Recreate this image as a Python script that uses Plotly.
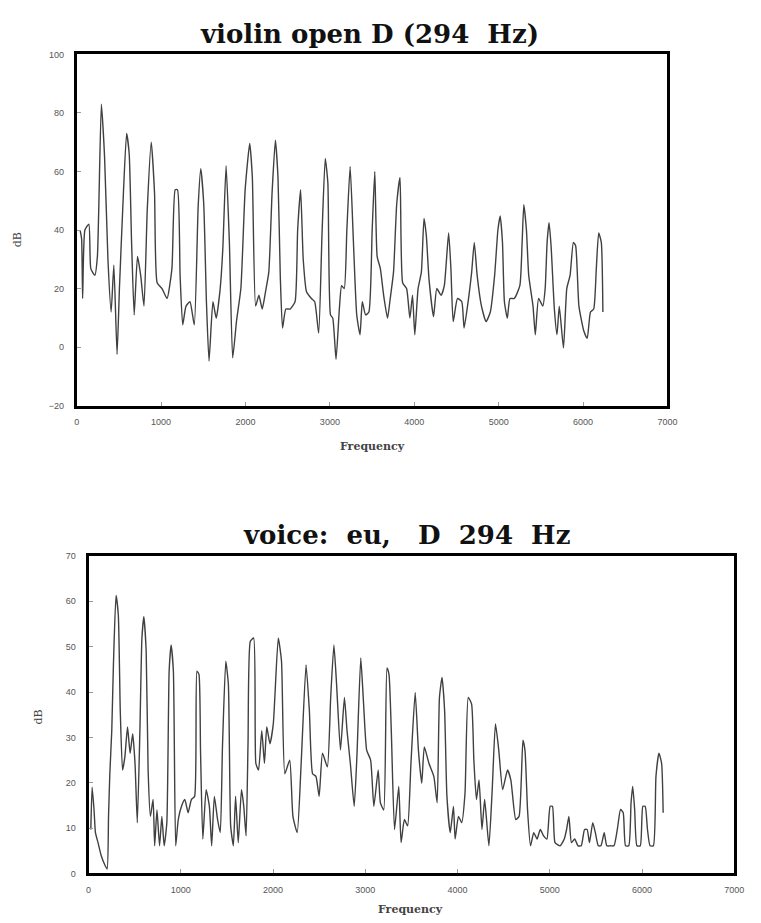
import plotly.graph_objects as go

# ---------------- data ----------------
violin_freq = [40, 58, 70, 97, 144, 167, 214, 245, 292, 330, 370, 408, 440, 478, 506, 545, 591, 622, 650, 681,
               720, 758, 797, 836, 883, 922, 953, 1011, 1070, 1128, 1167, 1194, 1225, 1256, 1295, 1342, 1393, 1439,
               1470, 1505, 1537, 1568, 1614, 1653, 1700, 1731, 1770, 1809, 1848, 1894, 1945, 1996, 2050, 2081, 2120,
               2159, 2198, 2237, 2276, 2315, 2354, 2385, 2412, 2439, 2478, 2529, 2587, 2618, 2653, 2684, 2723, 2781,
               2820, 2867, 2906, 2945, 2976, 3007, 3034, 3073, 3112, 3139, 3170, 3201, 3240, 3279, 3318, 3357, 3384,
               3423, 3462, 3501, 3532, 3560, 3598, 3637, 3683, 3715, 3754, 3792, 3831, 3862, 3909, 3948, 3979, 4006,
               4045, 4084, 4115, 4143, 4174, 4228, 4267, 4318, 4356, 4407, 4434, 4461, 4512, 4563, 4590, 4648, 4680,
               4711, 4745, 4796, 4851, 4901, 4952, 4991, 5018, 5045, 5068, 5103, 5134, 5185, 5251, 5278, 5298, 5329,
               5356, 5407, 5434, 5473, 5523, 5551, 5574, 5597, 5621, 5660, 5691, 5718, 5768, 5807, 5846, 5885, 5912,
               5951, 6010, 6049, 6088, 6126, 6157, 6185, 6216, 6235]
violin_db = [40, 37, 16.6, 40, 42, 26.8, 24.5, 31, 83, 65, 30, 12, 28, -2.5, 20, 47, 73, 66, 36, 11,
             31, 24.5, 14, 47, 70, 52.7, 22, 20, 16.6, 26.8, 53.8, 53.8, 24.5, 7.6, 14, 15.5, 7.6, 48,
             61, 49, 15.5, -4.8, 15.5, 9.9, 20, 33.5, 62, 35.8, -3.7, 9, 20, 53.8, 69.6, 58, 14,
             17.7, 13, 18.9, 25.6, 52.7, 70.7, 58, 24.5, 6.5, 13, 13, 15.5, 40, 53.8, 30, 18.9, 16.6,
             15.5, 4.8, 38, 64.5, 56, 11, 9.9, -4.2, 13, 21, 20, 40, 61.7, 35.8, 11, 4.2, 15.5,
             11, 12, 40, 60, 31, 26.8, 17.7, 9.9, 16.6, 25.6, 49, 58, 22, 20, 9.9, 17.7, 4.2,
             20, 25.6, 44, 38, 23.4, 10.4, 20, 17.7, 21, 39, 26.8, 8.7, 16.6, 15.5, 6.5, 17.7, 25.6,
             35.8, 24.5, 14, 8.7, 12, 24.5, 40, 44.8, 35.8, 15.5, 9.9, 16.6, 16.6, 21, 35.8, 48.7, 40,
             24.5, 14, 4.2, 16.6, 14, 20, 35.8, 42.5, 34.6, 13, 4.2, 14, -0.3, 20, 24.5, 35.8, 34.6,
             14, 5.4, 3, 12, 13, 26.8, 39, 35.8, 12]

voice_freq = [25, 39, 60, 75, 103, 138, 181, 202, 217, 231, 252, 270, 298, 323, 344, 369, 394, 423, 451, 479,
              504, 529, 557, 579, 600, 625, 646, 671, 700, 717, 742, 770, 795, 820, 849, 874, 895, 920, 945, 973,
              1008, 1044, 1080, 1115, 1150, 1175, 1197, 1214, 1239, 1275, 1310, 1335, 1364, 1399, 1428, 1452,
              1488, 1516, 1541, 1570, 1594, 1623, 1658, 1683, 1708, 1729, 1754, 1790, 1814, 1843, 1878, 1907,
              1932, 1967, 2003, 2057, 2092, 2128, 2181, 2216, 2262, 2305, 2358, 2394, 2429, 2465, 2500, 2536,
              2589, 2625, 2660, 2689, 2731, 2774, 2802, 2838, 2880, 2909, 2951, 2980, 3015, 3058, 3093, 3140,
              3164, 3200, 3235, 3257, 3282, 3317, 3363, 3388, 3424, 3459, 3495, 3541, 3576, 3612, 3640, 3690,
              3743, 3779, 3804, 3832, 3860, 3885, 3921, 3956, 3974, 4010, 4045, 4081, 4116, 4152, 4177, 4205,
              4233, 4265, 4294, 4340, 4376, 4411, 4447, 4489, 4542, 4578, 4631, 4667, 4709, 4731, 4759, 4791,
              4826, 4862, 4897, 4933, 4969, 5004, 5029, 5057, 5111, 5157, 5182, 5207, 5235, 5270, 5306, 5341,
              5377, 5405, 5430, 5466, 5494, 5526, 5554, 5590, 5618, 5661, 5696, 5732, 5767, 5796, 5821, 5856,
              5881, 5899, 5920, 5945, 5981, 6009, 6034, 6059, 6087, 6123, 6151, 6183, 6212, 6229]
voice_db = [9.7, 19, 14, 9, 6.8, 3.9, 1.7, 1, 12.6, 22, 31.5, 46, 61.3, 57, 36, 22.8, 25.7, 32.3, 26.5, 30.8,
            24.3, 11.2, 31.5, 51.9, 56.6, 49, 22.8, 12.6, 16.3, 6.1, 14, 6.1, 12.6, 6.1, 11.2, 44.6, 50.4, 44.6, 6.1, 11.9,
            14.8, 16.3, 13.4, 16.3, 17, 44.6, 43.9, 27.2, 7.6, 18.5, 14.8, 6.1, 17, 11.9, 9, 27.9,
            46.8, 41.7, 10.5, 6.1, 17, 6.8, 18.5, 14.8, 8.3, 28.6, 51.2, 51.9, 24.3, 22.8, 31.5, 24.3,
            32.3, 28.6, 33, 51.9, 46.8, 22, 25, 12.6, 9, 24.3, 46, 35.9, 22, 21.4, 17, 26.5,
            23.5, 38.8, 50.4, 41.7, 27.2, 38.8, 31.5, 24.3, 14.8, 25.7, 47.5, 38, 27.2, 25, 14.8, 22.8,
            15.6, 14, 45.3, 43.9, 31.5, 9.7, 19.2, 6.8, 11.9, 10.5, 24.3, 39.9, 27.2, 19.9, 27.9, 24.3,
            21.4, 15.6, 38.8, 43.2, 35.9, 17, 9, 14.8, 7.6, 12.6, 11.2, 17.7, 38.8, 37.4, 25, 16.3,
            20.6, 9.7, 16.3, 6.1, 18.5, 33, 27.2, 18.5, 22.8, 20.6, 11.9, 12.6, 29.4, 27.2, 14, 6.1,
            9, 7.6, 9.7, 8.3, 7.6, 14.8, 14.8, 6.8, 6.1, 7.6, 9.7, 12.6, 6.8, 7.6, 6.1, 6.1,
            9.7, 9.7, 6.8, 11.2, 9, 6.1, 6.1, 9, 6.1, 6.1, 6.1, 9.7, 14.1, 13.4, 6.1, 6.1,
            15.6, 19.2, 14.1, 6.1, 6.1, 14.8, 14.8, 9.7, 6.1, 6.1, 21.4, 26.5, 24.3, 13.4]

violin_title = "violin open D (294  Hz)"
voice_title = "voice:  eu,   D  294  Hz"
x_ticks = [0, 1000, 2000, 3000, 4000, 5000, 6000, 7000]
violin_y_ticks = [-20, 0, 20, 40, 60, 80, 100]
voice_y_ticks = [0, 10, 20, 30, 40, 50, 60, 70]

# ---------------- figure ----------------
W, H = 761, 923
LINE = dict(color="#404040", width=1.4, shape="spline", smoothing=0.5)
fig = go.Figure()
fig.add_trace(go.Scatter(x=violin_freq, y=violin_db, mode="lines", line=LINE,
                         xaxis="x", yaxis="y", showlegend=False))
fig.add_trace(go.Scatter(x=voice_freq, y=voice_db, mode="lines", line=LINE,
                         xaxis="x2", yaxis="y2", showlegend=False))

tickfont = dict(family="Liberation Sans, Arial, sans-serif", size=9, color="#555555")
axis_common = dict(showline=True, linecolor="black", linewidth=3, mirror=True,
                   showgrid=False, zeroline=False, ticks="inside", ticklen=4,
                   tickcolor="#999999", tickfont=tickfont)


def px_x(p):
    return p / W


def px_y(p):
    return 1 - p / H


fig.update_layout(
    width=W, height=H,
    margin=dict(l=0, r=0, t=0, b=0),
    paper_bgcolor="white", plot_bgcolor="white",
    xaxis=dict(domain=[px_x(75), px_x(676)], range=[0, 7000], tickvals=x_ticks,
               anchor="y", ticklabelstandoff=6, **axis_common),
    yaxis=dict(domain=[px_y(405), px_y(50)], range=[-20, 100], tickvals=violin_y_ticks,
               anchor="x", ticklabelstandoff=8, **axis_common),
    xaxis2=dict(domain=[px_x(87), px_x(744)], range=[0, 7000], tickvals=x_ticks,
                anchor="y2", ticklabelstandoff=6, **axis_common),
    yaxis2=dict(domain=[px_y(878), px_y(557)], range=[0, 70], tickvals=voice_y_ticks,
                anchor="x2", ticklabelstandoff=8, **axis_common),
)

title_font = dict(family="DejaVu Serif, serif", size=26, color="#111111")
label_font = dict(family="DejaVu Serif, serif", size=11, color="#444444")
annots = [
    dict(text="<b>" + violin_title + "</b>", x=px_x(373), y=px_y(29), font=title_font),
    dict(text="<b>" + voice_title + "</b>", x=px_x(411), y=px_y(536), font=title_font),
    dict(text="<b>Frequency</b>", x=px_x(376), y=px_y(446), font=label_font),
    dict(text="<b>Frequency</b>", x=px_x(415), y=px_y(914), font=label_font),
    dict(text="dB", x=px_x(15), y=px_y(237), font=label_font, textangle=-90),
    dict(text="dB", x=px_x(36), y=px_y(720), font=label_font, textangle=-90),
]
for a in annots:
    fig.add_annotation(xref="paper", yref="paper", showarrow=False,
                       xanchor="center", yanchor="middle", **a)

fig.write_html("out.html")
